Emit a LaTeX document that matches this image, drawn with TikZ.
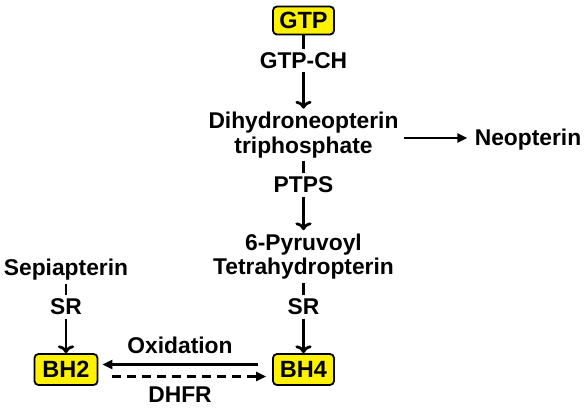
\documentclass[tikz,border=0pt]{standalone}
\usepackage{fontspec}
\setmainfont{Liberation Sans}
\usetikzlibrary{arrows.meta}
\begin{document}
\begin{tikzpicture}
		[x=1pt,y=1pt,
		box/.style={draw=black,fill=yellow,line width=1.8pt,rounded corners=4pt,
inner sep=0pt,minimum width=61pt,minimum height=29pt,font=\fontsize{23.5}{24}\selectfont\bfseries},
		textstyle/.style={align=center,inner sep=1.5pt,outer sep=2pt,font=\fontsize{22.8}{24.5}\selectfont\bfseries},
		edgestyle/.style={line width=2.8pt,-{Triangle[length=10pt,width=9pt]}},
		plain/.style={line width=2.8pt,-}]
		\useasboundingbox (0,0) rectangle (586,-410);
		% main route
		\node at (303.5,-20.5) (gtp) [box,minimum height=28pt] {GTP};
		\node at (303.5,-60.5) (gtpch) [textstyle] {GTP-CH}
			edge [plain] (gtp);
		\node at (303.5,-135) (dhnp) [textstyle] {Dihydroneopterin\\triphosphate}
			edge [edgestyle,<-] (gtpch);
		\node at (528,-139.5) (neo) [textstyle] {Neopterin};
		\node at (303.5,-185) (ptps) [textstyle] {PTPS}
			edge [plain] (dhnp);
		\node at (303.5,-256.5) (pyr) [textstyle] {6-Pyruvoyl\\Tetrahydropterin}
			edge [edgestyle,<-] (ptps);
		\node at (303.5,-307) (srR) [textstyle] {SR}
			edge [plain] (pyr);
		\node at (303.5,-369.5) (bh4) [box,minimum height=31pt] {BH4}
			edge [edgestyle,<-] (srR);
		% salvage route
		\node at (66,-270) (sep) [textstyle] {Sepiapterin};
		\node at (66,-307) (srL) [textstyle] {SR}
			edge [plain] (sep);
		\node at (66,-369.5) (bh2) [box,minimum width=63pt,minimum height=31pt] {BH2}
			edge [edgestyle,<-] (srL);
		\node at (180,-345) (oxid) [textstyle] {Oxidation};
		\node at (180,-395) (dhfr) [textstyle] {DHFR};
		\coordinate (neoin) at ([xshift=-4pt]neo.west);
		\draw [edgestyle,shorten <=2pt] ([yshift=1.5pt]dhnp.east |- neo) -- ([yshift=1.5pt]neoin);
		\draw [edgestyle,shorten <=14pt,shorten >=4pt] ([yshift=5pt]bh4.west) -- ([yshift=5pt]bh2.east);
		\draw [edgestyle,dash pattern=on 9pt off 6pt,shorten <=14pt,shorten >=6pt] ([yshift=-7pt]bh2.east) -- ([yshift=-7pt]bh4.west);
	\end{tikzpicture}
\end{document}
